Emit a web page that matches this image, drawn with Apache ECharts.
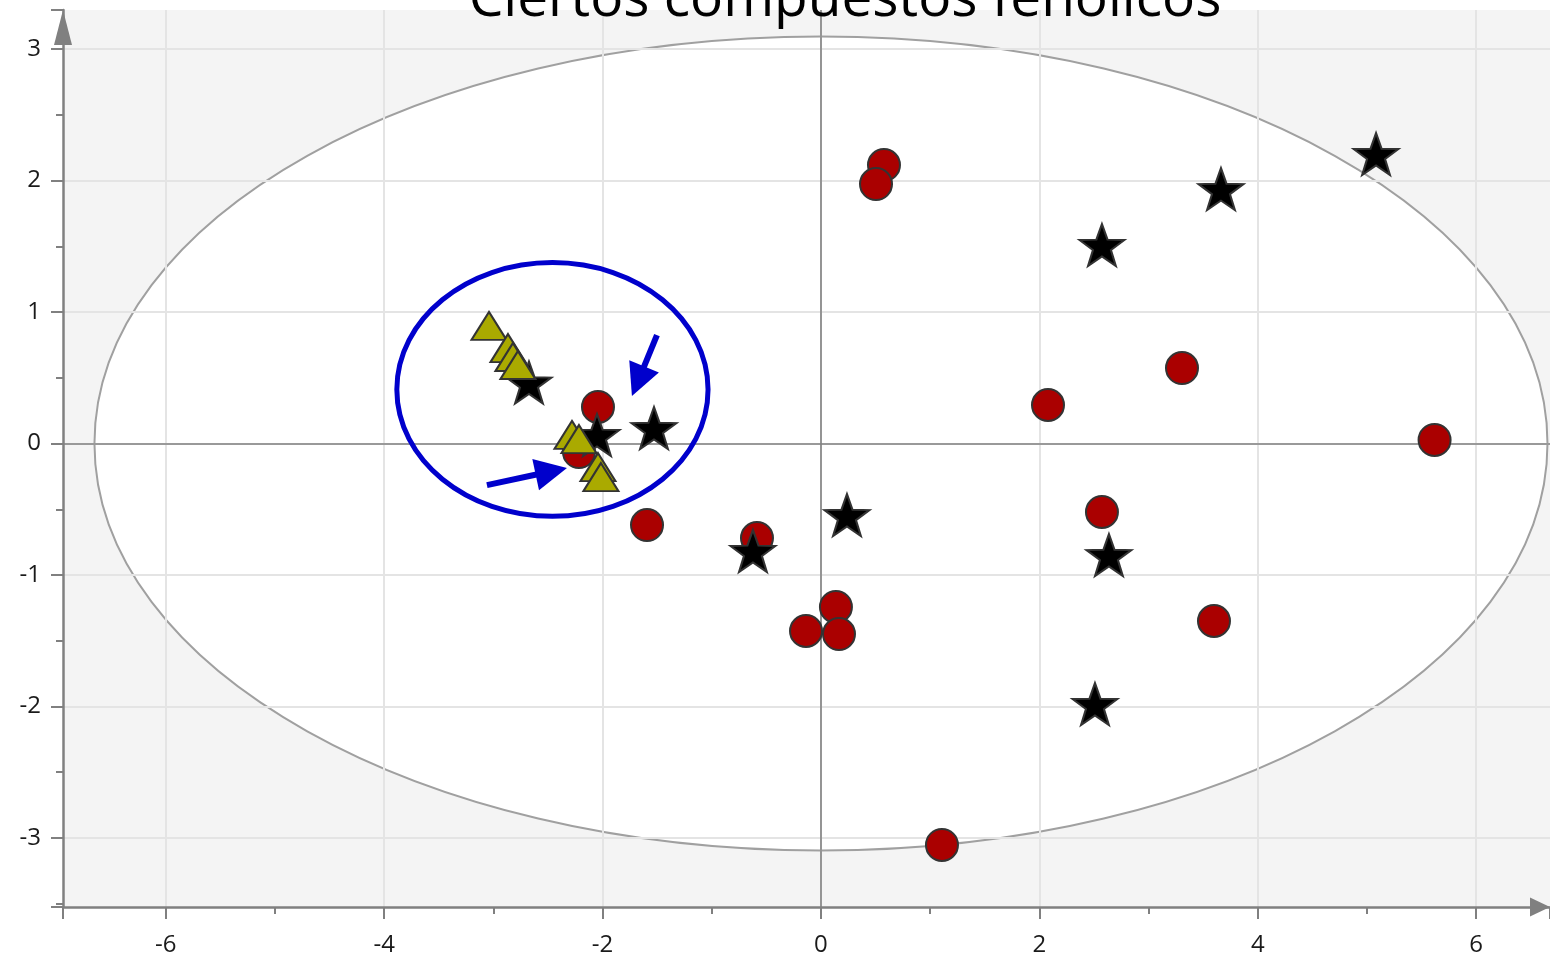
<!DOCTYPE html>
<html><head><meta charset="utf-8">
<script src="https://cdn.jsdelivr.net/npm/echarts@6/dist/echarts.min.js"></script>
<style>html,body{margin:0;padding:0;background:#fff}#c{width:1550px;height:958px}</style>
</head><body><div id="c"></div>
<script>
const titleText = 'Ciertos compuestos fenólicos';
// red circles
const circlePoints = [
  [0.577, 2.118], [0.504, 1.973], [3.306, 0.574], [2.079, 0.293], [5.619, 0.027],
  [2.573, -0.521], [3.599, -1.350], [1.108, -3.053], [0.137, -1.243], [-0.137, -1.426],
  [0.165, -1.449], [-0.586, -0.719], [-1.593, -0.620], [-2.042, 0.278], [-2.216, -0.065]
];
// black stars
const starPoints = [
  [5.083, 2.202], [3.663, 1.935], [2.573, 1.510], [-2.674, 0.464], [-2.051, 0.065],
  [-1.529, 0.118], [0.238, -0.544], [-0.623, -0.817], [2.637, -0.848], [2.509, -1.981]
];
// olive triangles
const trianglePoints = [
  [-3.040, 0.894], [-2.866, 0.726], [-2.821, 0.658], [-2.775, 0.597],
  [-2.280, 0.065], [-2.216, 0.034], [-2.042, -0.179], [-2.015, -0.255]
];
// ellipses: [cx, cy, rx, ry]
const confidenceEllipse = [[0, 0, 6.653, 3.095]];
const highlightEllipse = [[-2.459, 0.411, 1.425, 0.965]];
// arrows: [x1, y1, x2(tip), y2(tip)]
const arrows = [
  [-1.502, 0.825, -1.731, 0.361],
  [-3.059, -0.316, -2.326, -0.186]
];
const xRange = [-6.941, 6.676];
const yRange = [-3.525, 3.297];

const starPath = 'path://M50 0 L61.76 33.82 L97.55 34.55 L69.02 56.18 L79.39 90.45 L50 70 L20.61 90.45 L30.98 56.18 L2.45 34.55 L38.24 33.82 Z';
const font = 'Open Sans';

const chart = echarts.init(document.getElementById('c'), null, {renderer: 'canvas'});
const axisCommon = {
  type: 'value',
  z: 1.5,
  axisTick: {show: true, inside: false, length: 12, lineStyle: {color: '#808080', width: 2}},
  minorTick: {show: true, splitNumber: 2, length: 7, lineStyle: {color: '#808080', width: 2}},
  splitLine: {show: true, showMinLine: false, showMaxLine: false, lineStyle: {color: '#e4e4e4', width: 2}}
};
chart.setOption({
  animation: false,
  grid: {left: 63, right: 0, top: 10, bottom: 51, show: true, backgroundColor: '#f4f4f4', borderWidth: 0},
  graphic: [{
    type: 'text', x: 845, y: 0, z: 10,
    style: {text: titleText, fontSize: 55, fontFamily: font, fill: '#000', align: 'center', verticalAlign: 'middle'}
  }],
  xAxis: Object.assign({}, axisCommon, {
    min: xRange[0], max: xRange[1], splitNumber: 7,
    axisLine: {onZero: false, symbol: ['none', 'triangle'], symbolSize: [19, 20], symbolOffset: [0, -10], lineStyle: {color: '#808080', width: 2.5}},
    axisLabel: {color: '#1a1a1a', fontSize: 24, fontFamily: font, margin: 26, showMinLabel: false, showMaxLabel: false}
  }),
  yAxis: Object.assign({}, axisCommon, {
    min: yRange[0], max: yRange[1], splitNumber: 7,
    axisLine: {onZero: false, symbol: ['none', 'triangle'], symbolSize: [18, 35], symbolOffset: [0, -17.5], lineStyle: {color: '#808080', width: 2.5}},
    axisLabel: {color: '#1a1a1a', fontSize: 24, fontFamily: font, margin: 22, showMinLabel: false, showMaxLabel: false}
  }),
  series: [
    {
      type: 'custom', z: 1, silent: true,
      data: confidenceEllipse,
      renderItem: function (params, api) {
        const c = api.coord([api.value(0), api.value(1)]);
        const s = api.size([api.value(2), api.value(3)]);
        return {type: 'ellipse', shape: {cx: c[0], cy: c[1], rx: s[0], ry: s[1]},
          style: {fill: '#ffffff', stroke: '#a0a0a0', lineWidth: 2}};
      },
      markLine: {
        silent: true, symbol: 'none', z: 1.8, label: {show: false},
        lineStyle: {color: '#808080', width: 1.6, type: 'solid'},
        data: [{xAxis: 0}, {yAxis: 0}]
      }
    },
    {
      type: 'custom', z: 2, silent: true,
      data: highlightEllipse,
      renderItem: function (params, api) {
        const c = api.coord([api.value(0), api.value(1)]);
        const s = api.size([api.value(2), api.value(3)]);
        return {type: 'ellipse', shape: {cx: c[0], cy: c[1], rx: s[0], ry: s[1]},
          style: {fill: 'none', stroke: '#0000cc', lineWidth: 5}};
      }
    },
    {
      type: 'custom', z: 2, silent: true,
      data: arrows,
      renderItem: function (params, api) {
        const p1 = api.coord([api.value(0), api.value(1)]);
        const p2 = api.coord([api.value(2), api.value(3)]);
        const dx = p2[0] - p1[0], dy = p2[1] - p1[1];
        const len = Math.sqrt(dx * dx + dy * dy);
        const ux = dx / len, uy = dy / len;
        const hl = 32, hw = 16;
        const bx = p2[0] - ux * hl, by = p2[1] - uy * hl;
        return {type: 'group', children: [
          {type: 'line', shape: {x1: p1[0], y1: p1[1], x2: bx + ux * 2, y2: by + uy * 2},
            style: {stroke: '#0000cc', lineWidth: 6}},
          {type: 'polygon', shape: {points: [[p2[0], p2[1]], [bx - uy * hw, by + ux * hw], [bx + uy * hw, by - ux * hw]]},
            style: {fill: '#0000cc'}}
        ]};
      }
    },
    {
      type: 'scatter', z: 3, data: circlePoints, symbol: 'circle', symbolSize: 32,
      itemStyle: {color: '#aa0000', borderColor: '#333333', borderWidth: 2, opacity: 1}
    },
    {
      type: 'scatter', z: 3, data: starPoints, symbol: starPath, symbolSize: [45, 42],
      itemStyle: {color: '#000000', borderColor: '#333333', borderWidth: 2, opacity: 1}
    },
    {
      type: 'scatter', z: 3, data: trianglePoints, symbol: 'triangle', symbolSize: [35, 28],
      itemStyle: {color: '#aaaa00', borderColor: '#333333', borderWidth: 2, opacity: 1}
    }
  ]
});
</script>
</body></html>
